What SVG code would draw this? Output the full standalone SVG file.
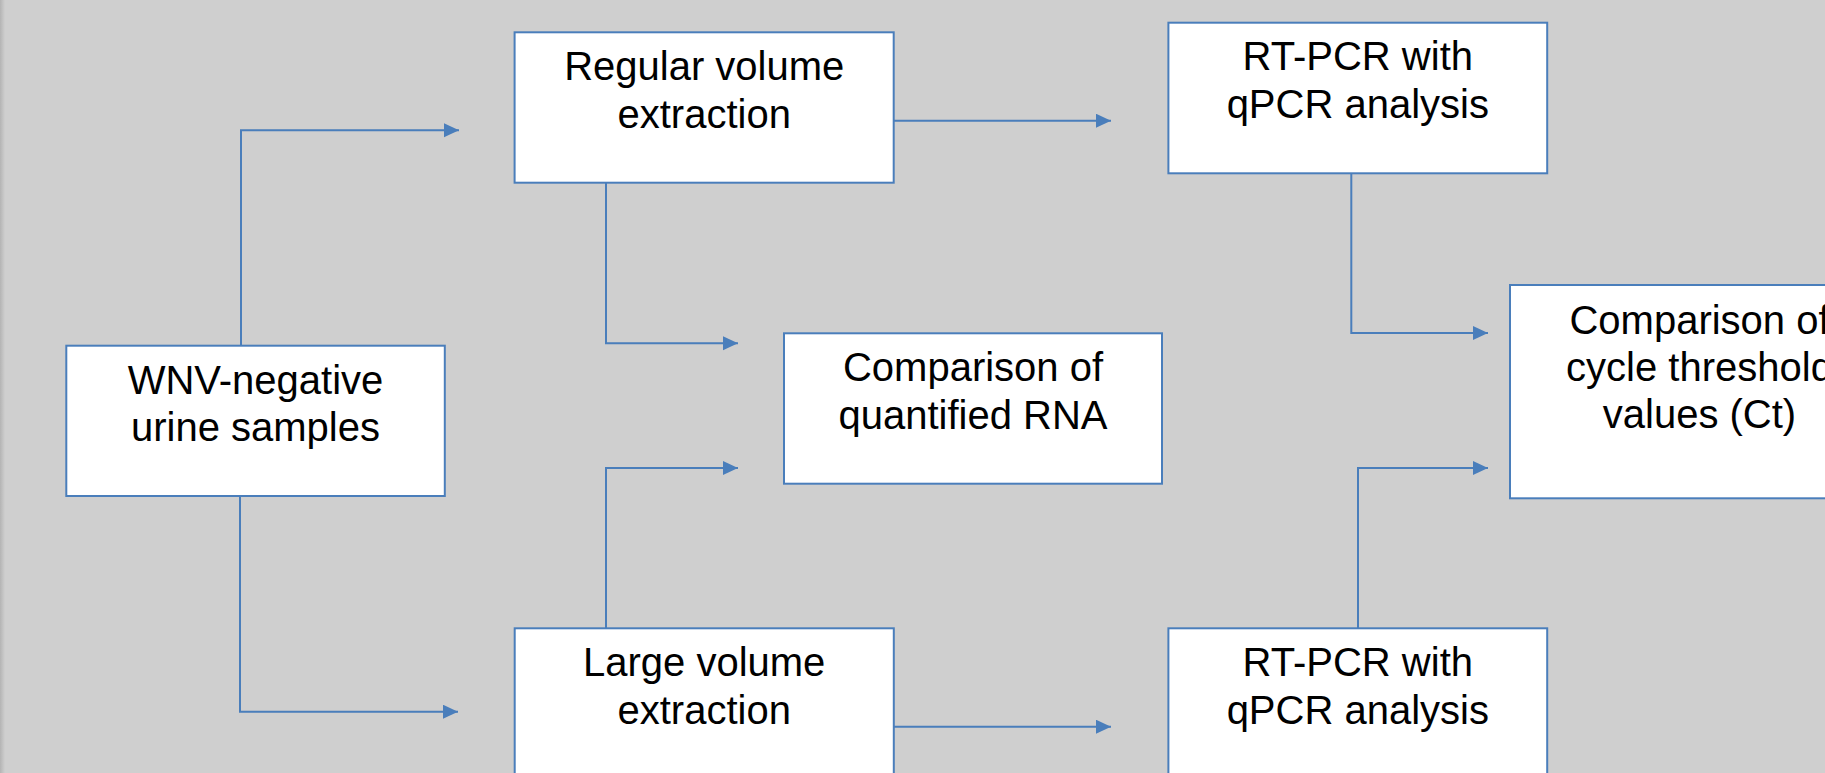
<svg xmlns="http://www.w3.org/2000/svg" width="1825" height="773" viewBox="0 0 1825 773">
<style>
.box{fill:#ffffff;stroke:#4a7ebb;stroke-width:2}
.lbl{font-family:"Liberation Sans",Arial,sans-serif;font-size:40px;fill:#000000;text-anchor:middle}
.conn{fill:none;stroke:#4a7ebb;stroke-width:2}
</style>
<defs>
<marker id="arr" markerUnits="userSpaceOnUse" markerWidth="16" markerHeight="15" refX="15" refY="7" orient="auto" viewBox="0 0 16 15">
<path d="M0,0 L15,7 L0,14 z" fill="#4a7ebb"/>
</marker>
<linearGradient id="edge" x1="0" y1="0" x2="1" y2="0">
<stop offset="0" stop-color="#b4b4b4"/>
<stop offset="1" stop-color="#cfcfcf"/>
</linearGradient>
</defs>
<rect x="0" y="0" width="1825" height="773" fill="#cfcfcf"/>
<rect x="0" y="0" width="5" height="773" fill="url(#edge)"/>
<g id="connectors">
<path class="conn" d="M241,345.7 V130.3 H459" marker-end="url(#arr)"/>
<path class="conn" d="M240,496 V711.7 H458" marker-end="url(#arr)"/>
<path class="conn" d="M894,120.7 H1111" marker-end="url(#arr)"/>
<path class="conn" d="M606,182.7 V343.3 H738" marker-end="url(#arr)"/>
<path class="conn" d="M606,628.3 V468 H738" marker-end="url(#arr)"/>
<path class="conn" d="M894,726.7 H1111" marker-end="url(#arr)"/>
<path class="conn" d="M1351.3,173.3 V333 H1488" marker-end="url(#arr)"/>
<path class="conn" d="M1358,628.3 V468 H1488" marker-end="url(#arr)"/>
</g>
<g id="wnv">
<rect class="box" x="66.3" y="345.7" width="378.5" height="150.3"/>
<text class="lbl" x="255.5" y="393.5">WNV-negative</text>
<text class="lbl" x="255.5" y="441">urine samples</text>
</g>
<g id="regular">
<rect class="box" x="514.6" y="32.3" width="379.1" height="150.4"/>
<text class="lbl" x="704.2" y="80">Regular volume</text>
<text class="lbl" x="704.2" y="127.7">extraction</text>
</g>
<g id="large">
<rect class="box" x="514.7" y="628.3" width="379.1" height="150.4"/>
<text class="lbl" x="704.2" y="676">Large volume</text>
<text class="lbl" x="704.2" y="723.7">extraction</text>
</g>
<g id="compare-rna">
<rect class="box" x="784" y="333.3" width="378" height="150.4"/>
<text class="lbl" x="973" y="381">Comparison of</text>
<text class="lbl" x="973" y="428.7">quantified RNA</text>
</g>
<g id="rtpcr-top">
<rect class="box" x="1168.4" y="22.7" width="378.8" height="150.6"/>
<text class="lbl" x="1357.8" y="70.4">RT-PCR with</text>
<text class="lbl" x="1357.8" y="118">qPCR analysis</text>
</g>
<g id="rtpcr-bottom">
<rect class="box" x="1168.4" y="628.3" width="378.8" height="150.6"/>
<text class="lbl" x="1357.8" y="676">RT-PCR with</text>
<text class="lbl" x="1357.8" y="723.7">qPCR analysis</text>
</g>
<g id="compare-ct">
<rect class="box" x="1510" y="285" width="379" height="213.3"/>
<text class="lbl" x="1699.5" y="334">Comparison of</text>
<text class="lbl" x="1699.5" y="381">cycle threshold</text>
<text class="lbl" x="1699.5" y="428.3">values (Ct)</text>
</g>
</svg>
